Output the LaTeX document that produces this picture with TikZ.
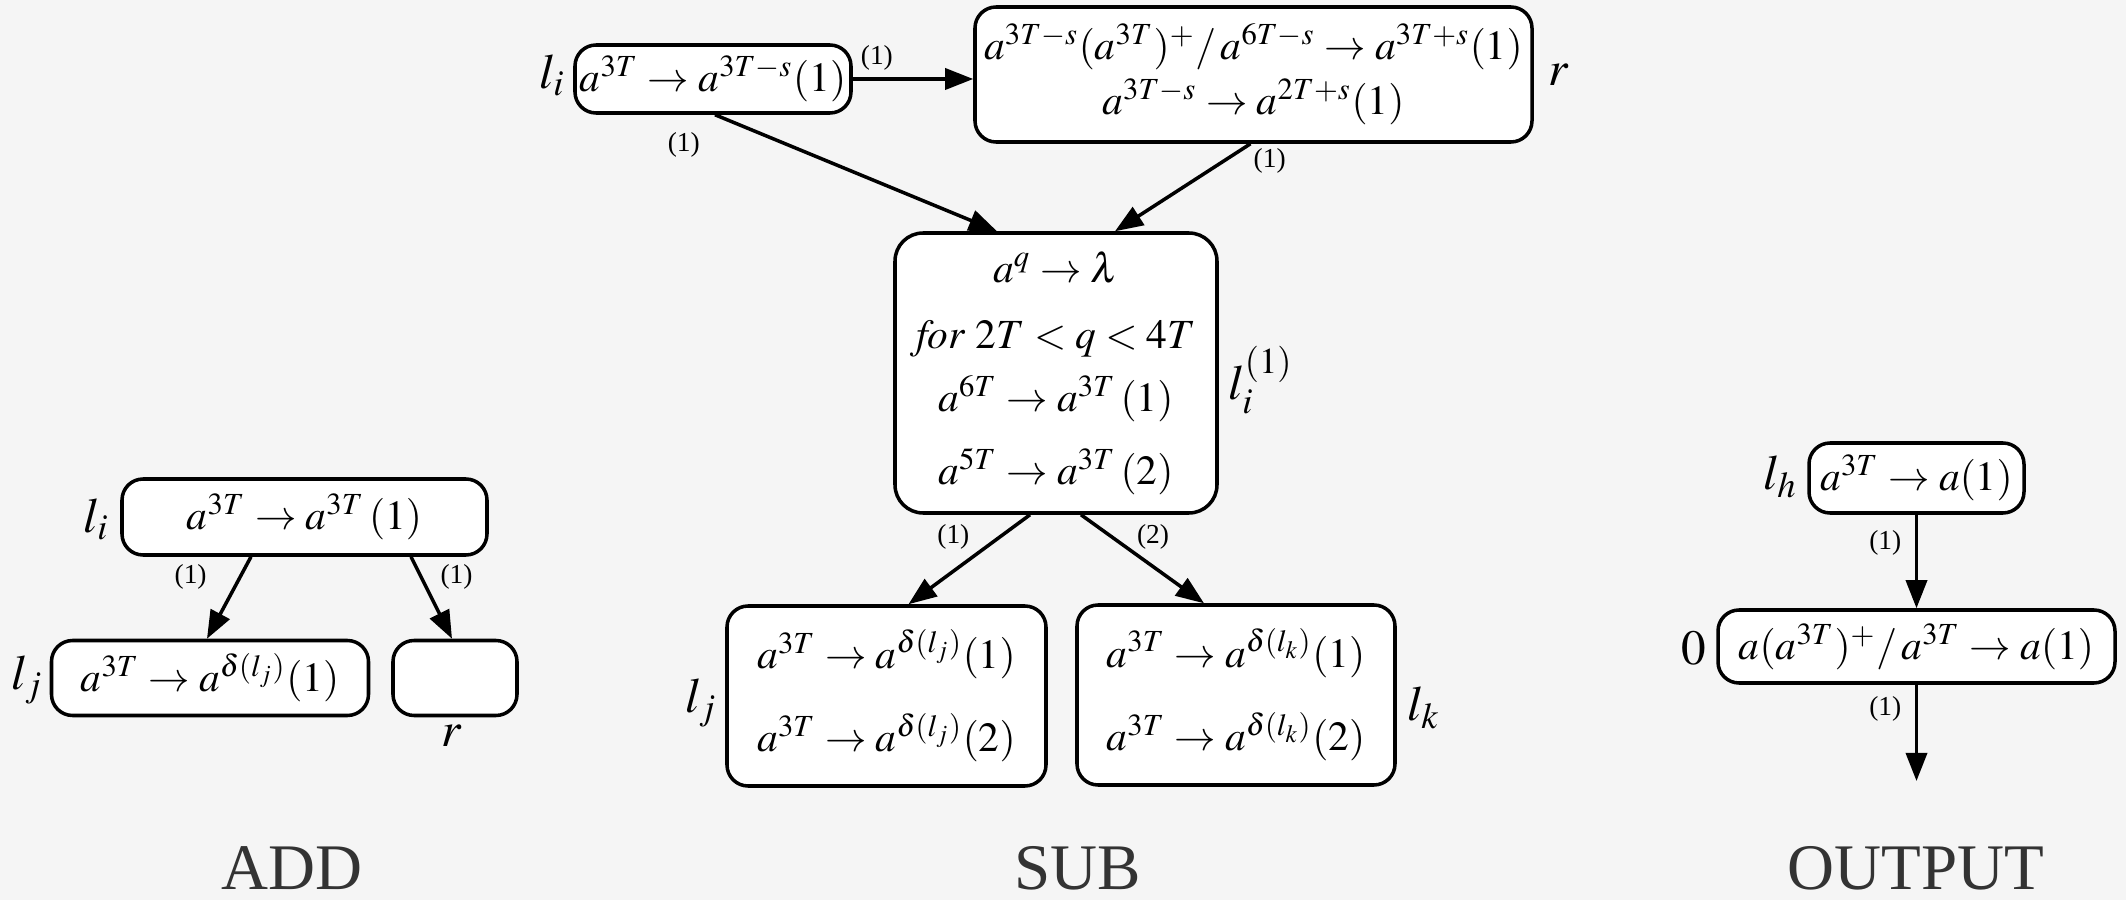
\documentclass[tikz,border=0pt]{standalone}
\usepackage{mathptmx}
\usepackage[no-math]{fontspec}
\setmainfont{Liberation Serif}
\usetikzlibrary{arrows.meta}

\definecolor{bgcol}{HTML}{F5F5F5}
\definecolor{titcol}{HTML}{333333}

\begin{document}
\begin{tikzpicture}[>={Triangle[length=8pt,width=6pt]}, line width=1pt,
    box/.style={draw, fill=white, rounded corners=6pt, align=center, inner sep=1pt,
        font=\fontsize{11.8}{14.2}\selectfont},
    lab/.style={font=\fontsize{14}{17}\selectfont, inner sep=0pt},
    num/.style={font=\fontsize{7.8}{9}\selectfont, inner sep=1pt},
    title/.style={font=\fontsize{18.5}{22}\selectfont, text=titcol, inner sep=0pt}]

    % 背景
    \fill[bgcol] (0,0) rectangle (21.26,9);
    \useasboundingbox (0,0) rectangle (21.26,9);

    % 1. ADD 模块
    \node[box, minimum width=3.65cm, minimum height=0.76cm] (addli) at (3.045,3.83) {$a^{3T}\rightarrow a^{3T}\,(1)$};
    \node[box, minimum width=3.17cm, minimum height=0.75cm] (addlj) at (2.10,2.22) {$a^{3T}\rightarrow a^{\delta(l_j)}(1)$};
    \node[box, minimum width=1.24cm, minimum height=0.75cm] (addr) at (4.55,2.22) {};
    \node[lab, anchor=east] (addlil) at (1.11,3.81) {$l_i$};
    \node[lab, anchor=east] (addljl) at (0.45,2.20) {$l_j$};
    \node[lab] (addrl) at (4.52,1.64) {$r$};
    \draw[->] ([xshift=-5.35mm]addli.south) -- ([xshift=-0.3mm]addlj.north)
        node[num, pos=0.25, left=8pt] {(1)};
    \draw[->] ([xshift=10.65mm]addli.south) -- ([xshift=-0.3mm]addr.north)
        node[num, pos=0.25, right=4pt] {(1)};
    \node[title] (addt) at (2.92,0.32) {ADD};

    % 2. SUB 模块
    \node[box, minimum width=2.76cm, minimum height=0.68cm] (subli) at (7.13,8.21) {$a^{3T}\rightarrow a^{3T-s}(1)$};
    \node[box, minimum width=5.57cm, minimum height=1.35cm] (subr) at (12.535,8.255)
        {$a^{3T-s}(a^{3T})^{+}/\,a^{6T-s}\rightarrow a^{3T+s}(1)$\\[1.5pt]
         $a^{3T-s}\rightarrow a^{2T+s}(1)$};
    \node[box, minimum width=3.22cm, minimum height=2.80cm, rounded corners=8pt] (subc) at (10.56,5.27)
        {$a^{q}\rightarrow\lambda$\\[4.8pt]
         $\mathit{for}\ 2T<q<4T$\\[3.7pt]
         $a^{6T}\rightarrow a^{3T}\,(1)$\\[6.5pt]
         $a^{5T}\rightarrow a^{3T}\,(2)$};
    \node[box, minimum width=3.19cm, minimum height=1.80cm] (sublj) at (8.865,2.04)
        {$a^{3T}\rightarrow a^{\delta(l_j)}(1)$\\[9.6pt]
         $a^{3T}\rightarrow a^{\delta(l_j)}(2)$};
    \node[box, minimum width=3.18cm, minimum height=1.80cm] (sublk) at (12.36,2.05)
        {$a^{3T}\rightarrow a^{\delta(l_k)}(1)$\\[9.6pt]
         $a^{3T}\rightarrow a^{\delta(l_k)}(2)$};
    \node[lab, anchor=east] (sublil) at (5.67,8.25) {$l_i$};
    \node[lab, anchor=west] (subrl) at (15.47,8.25) {$r$};
    \node[lab, anchor=west] (subcl) at (12.27,5.20) {$l_i^{(1)}$};
    \node[lab, anchor=east] (subljl) at (7.19,1.97) {$l_j$};
    \node[lab, anchor=west] (sublkl) at (14.06,1.92) {$l_k$};

    \draw[->] (subli.east) -- (subli.east -| subr.west)
        node[num, pos=0.2, above=1pt] {(1)};
    \draw[->] ([xshift=0.2mm]subli.south) -- ([xshift=-5.9mm]subc.north)
        node[num, pos=0, anchor=north east, xshift=-1mm, yshift=-1.2mm] {(1)};
    \draw[->] ([xshift=-0.3mm]subr.south) -- ([xshift=5.9mm]subc.north)
        node[num, pos=0.2, right=2.5mm] {(1)};
    \draw[->] ([xshift=-2.6mm]subc.south) -- ([xshift=2.2mm]sublj.north)
        node[num, pos=0.25, left=2.5mm] {(1)};
    \draw[->] ([xshift=2.5mm]subc.south) -- ([xshift=-3.2mm]sublk.north)
        node[num, pos=0.25, right=2mm] {(2)};
    \node[title] (subt) at (10.78,0.32) {SUB};

    % 3. OUTPUT 模块
    \node[box, minimum width=2.15cm, minimum height=0.70cm] (outh) at (19.165,4.22) {$a^{3T}\rightarrow a(1)$};
    \node[box, minimum width=3.97cm, minimum height=0.73cm] (outz) at (19.165,2.535) {$a(a^{3T})^{+}/\,a^{3T}\rightarrow a(1)$};
    \node[lab, anchor=east] (outhl) at (17.99,4.23) {$l_h$};
    \node[lab, anchor=east] (outzl) at (17.08,2.52) {$0$};
    \coordinate (outend) at (19.165,1.19);
    \draw[->] (outh.south) -- (outz.north)
        node[num, pos=0.3, left=1mm] {(1)};
    \draw[->] (outz.south) -- (outend)
        node[num, pos=0.25, left=1mm] {(1)};
    \node[title] (outt) at (19.16,0.32) {OUTPUT};

\end{tikzpicture}
\end{document}
